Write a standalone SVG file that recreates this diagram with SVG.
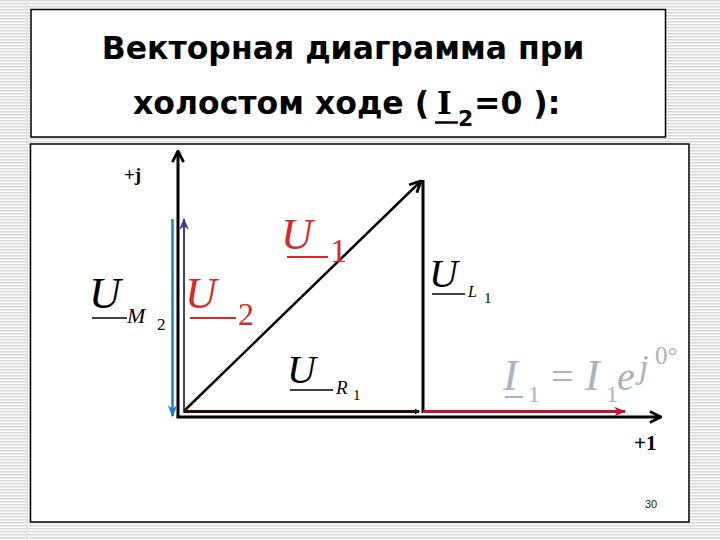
<svg xmlns="http://www.w3.org/2000/svg" width="720" height="540" viewBox="0 0 720 540">
<style>
.title{font-family:"DejaVu Sans",Verdana,sans-serif;font-weight:bold;font-size:31.5px;fill:#000}
.m{font-family:"Liberation Serif","Times New Roman",serif;font-style:italic}
.d{font-family:"Liberation Serif","Times New Roman",serif;font-style:normal}
.red{fill:#d42a2a}
.blk{fill:#000}
.gr{fill:#a9b2c4}
.ax{font-family:"Liberation Serif","Times New Roman",serif;font-weight:bold;fill:#000}
</style>
<defs>
<pattern id="stripes" width="4" height="3" patternUnits="userSpaceOnUse">
<rect width="4" height="3" fill="#ffffff"/>
<rect width="4" height="1.5" fill="#d6d6d6"/>
</pattern>
<marker id="ah" viewBox="0 0 10 10" refX="9" refY="5" markerWidth="5" markerHeight="5" orient="auto" markerUnits="userSpaceOnUse">
<path d="M0,0 L10,5 L0,10" fill="none" stroke="#000" stroke-width="2"/>
</marker>
<marker id="ahBig" viewBox="0 0 10 10" refX="9" refY="5" markerWidth="14" markerHeight="14" markerUnits="userSpaceOnUse" orient="auto">
<path d="M1,1 L9,5 L1,9" fill="none" stroke="#000" stroke-width="2"/>
</marker>
<marker id="ahRed" viewBox="0 0 10 10" refX="9" refY="5" markerWidth="12" markerHeight="12" markerUnits="userSpaceOnUse" orient="auto">
<path d="M0,1 L10,5 L0,9 L3,5 Z" fill="#c8102e"/>
</marker>
<marker id="ahBlue" viewBox="0 0 10 10" refX="9" refY="5" markerWidth="12" markerHeight="12" markerUnits="userSpaceOnUse" orient="auto">
<path d="M0,1 L10,5 L0,9 L3,5 Z" fill="#1f78d8"/>
</marker>
<marker id="ahNavy" viewBox="0 0 10 10" refX="9" refY="5" markerWidth="12" markerHeight="12" markerUnits="userSpaceOnUse" orient="auto">
<path d="M0,1 L10,5 L0,9 L3,5 Z" fill="#3a3f95"/>
</marker>
</defs>
<rect width="720" height="540" fill="url(#stripes)"/>
<line x1="27" y1="0" x2="27" y2="540" stroke="#e4e4e4" stroke-width="2"/>

<g id="title">
<rect x="31" y="9.5" width="634.5" height="127.5" fill="#fff" stroke="#000" stroke-width="1.5"/>
<text class="title" x="343" y="59" text-anchor="middle">Векторная диаграмма при</text>
<text class="title" x="133" y="114">холостом ходе (<tspan x="437" font-family="DejaVu Serif,serif">I</tspan><tspan x="458" font-size="22" dy="12">2</tspan><tspan x="474" dy="-12">=0 ):</tspan></text>
<line x1="435" y1="122.5" x2="458" y2="122.5" stroke="#000" stroke-width="2.5"/>
</g>

<g id="panel">
<rect x="30.5" y="144" width="658.5" height="378" fill="#fff" stroke="#000" stroke-width="1.5"/>
<text x="651" y="508" text-anchor="middle" font-family="Liberation Sans,Arial,sans-serif" font-size="11" fill="#222">30</text>
</g>

<g id="connectors">
<line x1="178" y1="417" x2="178" y2="151" stroke="#000" stroke-width="3" marker-end="url(#ahBig)"/>
<line x1="176.5" y1="417" x2="661" y2="417" stroke="#000" stroke-width="3" marker-end="url(#ahBig)"/>
<line x1="172.5" y1="219" x2="172.5" y2="416" stroke="#1f78d8" stroke-width="2.5" marker-end="url(#ahBlue)"/>
<line x1="184" y1="413" x2="184" y2="219" stroke="#3a3f95" stroke-width="2" marker-end="url(#ahNavy)"/>
<line x1="184" y1="411" x2="421" y2="181" stroke="#000" stroke-width="2.5" marker-end="url(#ahBig)"/>
<line x1="423" y1="180" x2="423" y2="413" stroke="#000" stroke-width="3"/>
<line x1="184" y1="411.5" x2="419" y2="411.5" stroke="#2a0a0a" stroke-width="3" marker-end="url(#ah)"/>
<line x1="423" y1="411.5" x2="625" y2="411.5" stroke="#c8102e" stroke-width="3" marker-end="url(#ahRed)"/>
</g>

<g id="label-axes">
<text class="ax" x="124" y="181" font-size="19">+j</text>
<text class="ax" x="634" y="450" font-size="21">+1</text>
</g>

<g id="label-U1">
<text class="m red" x="281" y="249" font-size="44">U</text>
<line x1="287" y1="257" x2="328" y2="257" stroke="#d42a2a" stroke-width="2"/>
<text class="d red" x="330" y="262" font-size="34">1</text>
</g>

<g id="label-U2">
<text class="m red" x="185" y="308" font-size="44">U</text>
<line x1="190" y1="318" x2="236" y2="318" stroke="#d42a2a" stroke-width="2"/>
<text class="d red" x="238" y="325" font-size="32">2</text>
</g>

<g id="label-UM2">
<text class="m blk" x="89" y="308" font-size="44">U</text>
<line x1="92" y1="318" x2="127" y2="318" stroke="#000" stroke-width="1.5"/>
<text class="m blk" x="127" y="323" font-size="22">M</text>
<text class="d blk" x="157" y="330" font-size="17">2</text>
</g>

<g id="label-UL1">
<text class="m blk" x="429" y="287" font-size="40">U</text>
<line x1="432" y1="294" x2="465" y2="294" stroke="#000" stroke-width="1.5"/>
<text class="m blk" x="468" y="297" font-size="16">L</text>
<text class="d blk" x="484" y="303" font-size="15">1</text>
</g>

<g id="label-UR1">
<text class="m blk" x="287" y="383" font-size="40">U</text>
<line x1="290" y1="390" x2="333" y2="390" stroke="#000" stroke-width="1.5"/>
<text class="m blk" x="336" y="394" font-size="19">R</text>
<text class="d blk" x="353" y="400" font-size="15">1</text>
</g>

<g id="label-I1">
<text class="m gr" x="503" y="390" font-size="44">I</text>
<line x1="505" y1="397" x2="523" y2="397" stroke="#a9b2c4" stroke-width="2"/>
<text class="d gr" x="528" y="402" font-size="24">1</text>
<text class="d gr" x="551" y="390" font-size="40">=</text>
<text class="m gr" x="585" y="390" font-size="44">I</text>
<text class="d gr" x="606" y="402" font-size="24">1</text>
<text class="m gr" x="617" y="390" font-size="40">e</text>
<text class="m gr" x="639" y="378" font-size="34">j</text>
<text class="d gr" x="655" y="364" font-size="25">0°</text>
</g>
</svg>
